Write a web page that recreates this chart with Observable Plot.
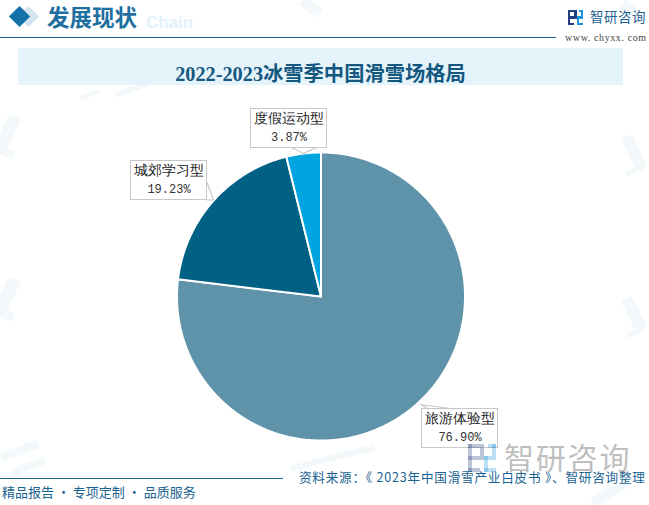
<!DOCTYPE html>
<html><head><meta charset="utf-8">
<script src="https://cdn.jsdelivr.net/npm/d3@7"></script>
<script src="https://cdn.jsdelivr.net/npm/@observablehq/plot@0.6"></script>
<style>
html,body{margin:0;padding:0;background:#fff;overflow:hidden}
#page{position:relative;width:649px;height:505px;overflow:hidden;font-family:"Noto Sans CJK SC","Noto Sans",sans-serif}
#page svg{position:absolute;left:0;top:0;background:transparent}
.t{position:absolute;white-space:nowrap;line-height:1}
.b{position:absolute}
</style></head><body><div id="page"></div>
<script>
const categories = ["旅游体验型","城郊学习型","度假运动型"];
const shares = [76.90,19.23,3.87];
const colors = ["#5f93aa","#006184","#00a5df"];
const shareLabels = ["76.90%","19.23%","3.87%"];
const title = "2022-2023冰雪季中国滑雪场格局";

const W=649,H=505,cx=320.5,cy=296,R=144;
const total=d3.sum(shares);
let acc=0;
const wedges=[];
categories.forEach((c,i)=>{
  const a0=acc/total*2*Math.PI; acc+=shares[i]; const a1=acc/total*2*Math.PI;
  const n=Math.ceil((a1-a0)/0.01);
  wedges.push({c,x:cx,y:cy});
  d3.range(n+1).forEach(k=>{const a=a0+(a1-a0)*k/n; wedges.push({c,x:cx+R*Math.sin(a),y:cy-R*Math.cos(a)});});
  wedges.push({c,x:cx,y:cy});
});
const boxes=[{c:categories[0],x1:421.5,x2:497.5,y1:408.5,y2:447.5},{c:categories[1],x1:130.5,x2:206.5,y1:160.5,y2:199.5},{c:categories[2],x1:250.5,x2:326.5,y1:108.5,y2:147.5}];
const leaders=[
 {k:0,x:453,y:408.5},{k:0,x:420,y:404},{k:0,x:428,y:408.5},
 {k:1,x:206.5,y:182},{k:1,x:213,y:199.5},{k:1,x:206.5,y:199.5},
 {k:2,x:292,y:147.5},{k:2,x:303,y:153},{k:2,x:315,y:147.5}
];
const lab=boxes.map((b,i)=>({name:b.c,pct:shareLabels[i],x:(b.x1+b.x2)/2,y1:b.y1+10,y2:b.y1+28}));

const chart=Plot.plot({
  width:W,height:H,margin:0,
  x:{domain:[0,W],range:[0,W],axis:null},
  y:{domain:[0,H],range:[0,H],axis:null},
  color:{domain:categories,range:colors},
  marks:[
    Plot.rect([{x1:18,x2:623,y1:48,y2:85}],{x1:"x1",x2:"x2",y1:"y1",y2:"y2",fill:"#e5f3fb"}),
    Plot.line(wedges,{x:"x",y:"y",z:"c",fill:"c",stroke:"#fff",strokeWidth:2,strokeLinejoin:"miter"}),
    Plot.line(leaders,{x:"x",y:"y",z:"k",stroke:"#c8c8c8",strokeWidth:1.2,fill:"#fff"}),
    Plot.rect(boxes,{x1:"x1",x2:"x2",y1:"y1",y2:"y2",fill:"none",stroke:"#c8c8c8",strokeWidth:1}),
    Plot.text(lab,{x:"x",y:"y1",text:"name",fontSize:13.5,fill:"#222",letterSpacing:"1.2px"}),
    Plot.text(lab,{x:"x",y:"y2",text:"pct",fontSize:12,fill:"#333",fontFamily:"Liberation Mono"})
  ]
});
const page=document.getElementById("page");
function T(s,css){const e=document.createElement("div");e.className="t";e.textContent=s;e.style.cssText=css;page.appendChild(e);return e;}
function B(css){const e=document.createElement("div");e.className="b";e.style.cssText=css;page.appendChild(e);return e;}
// faint watermark fragments, behind the chart
[[0,115,13,40,25],[0,277,13,40,25],[6,150,8,8,25],[6,312,8,8,25],[628,135,12,34,-25],[628,297,12,34,-25],[626,168,18,5,-25],[626,330,18,5,-25],
 [300,2,22,10,35],[620,4,18,10,35],[0,446,40,9,-20],[12,462,34,8,-20],[290,458,60,6,-15],[345,448,30,6,-15],[590,488,40,9,-30],[115,86,35,6,-20],[80,92,20,5,-20]]
 .forEach(([x,y,w,h,r])=>B(`left:${x}px;top:${y}px;width:${w}px;height:${h}px;background:#f3f8fb;transform:rotate(${r}deg)`));
page.appendChild(chart);
// header
B("left:0;top:37px;width:556px;height:1px;background:#1a6390");
B("left:20.5px;top:9px;width:15px;height:15px;background:#d3e4ee;transform:rotate(45deg)");
B("left:11.5px;top:9px;width:15px;height:15px;background:#1470a8;transform:rotate(45deg)");
T("Chain","left:146px;top:13px;font:700 17px 'Liberation Sans';color:#e3f1fb");
T("发展现状","left:47px;top:5px;font-size:22.5px;font-weight:700;color:#1e6f9f");
T(title,"left:18px;width:605px;text-align:center;top:57px;font:700 20.3px 'Liberation Serif','Noto Sans CJK SC';color:#14577f");
function logo(x,y,s,o){
  const u=s/7,c1=`rgba(36,62,130,${o})`,c2=`rgba(30,150,220,${o})`;
  [[0,0,3,1,c1],[0,0,1,7,c1],[0,3,3,1,c1],[3,0,1,4,c1],[0,6,3,1,c1],[5,0,2,1,c2],[6,0,1,3,c2],[4,3,3,1,c2],[4,3,1,4,c2],[4,6,3,1,c2]]
   .forEach(([a,b,w,h,col])=>B(`left:${x+a*u}px;top:${y+b*u}px;width:${w*u}px;height:${h*u}px;background:${col}`));
}
logo(568,10,15,1);
T("智研咨询","left:590px;top:10px;font-size:13.5px;letter-spacing:.5px;color:#1e5f8f");
T("www. chyxx. com","left:565px;top:32px;font:10px 'Liberation Serif';letter-spacing:.6px;color:#444");
// footer
logo(468,444,28,.3);
T("智研咨询","left:504px;top:441px;font-size:30px;letter-spacing:1.8px;color:rgba(125,125,125,.5)");
B("left:0;top:478px;width:283px;height:1px;background:#1a6a9c");
T("精品报告 · 专项定制 · 品质服务","left:2px;top:485px;font-size:13px;color:#19628f");
T("资料来源：《 2023年中国滑雪产业白皮书 》、智研咨询整理","left:299px;top:471px;font-size:12.6px;letter-spacing:.78px;color:#19628f");
</script></body></html>
